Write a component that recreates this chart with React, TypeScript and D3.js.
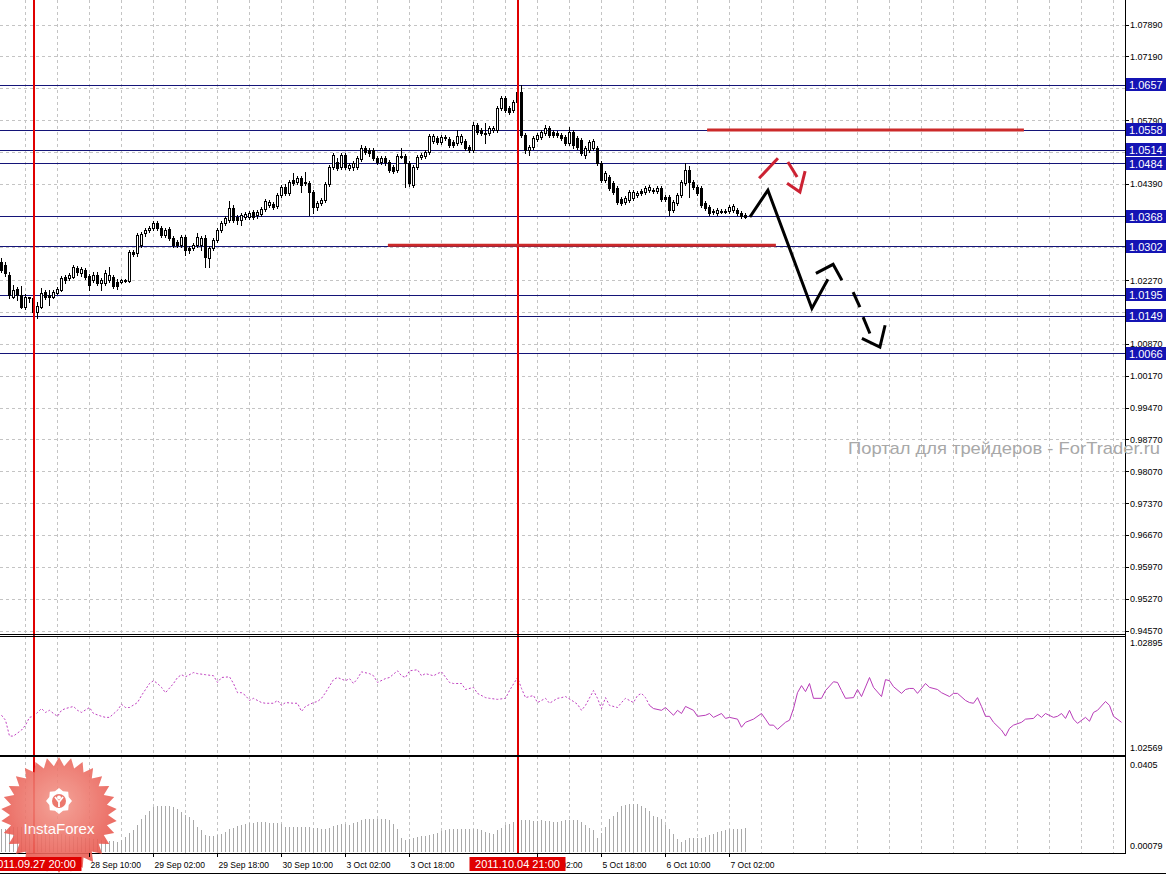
import React from "react";
import * as d3 from "d3";

const W = 1166;
const H = 875;

// EURUSD-like H1 candles [open, high, low, close]
const candles: [number, number, number, number][] = [
  [1.0268,1.0276,1.0246,1.0250],[1.0261,1.0268,1.0237,1.0243],[1.0239,1.0246,1.0188,1.0195],[1.0191,1.0217,1.0188,1.0206],
  [1.0208,1.0213,1.0184,1.0195],[1.0195,1.0215,1.0166,1.0169],[1.0169,1.0197,1.0164,1.0191],[1.0188,1.0191,1.0180,1.0191],
  [1.0188,1.0193,1.0153,1.0158],[1.0158,1.0180,1.0144,1.0171],[1.0169,1.0210,1.0166,1.0199],[1.0202,1.0206,1.0186,1.0191],
  [1.0195,1.0206,1.0173,1.0191],[1.0191,1.0206,1.0188,1.0202],[1.0199,1.0213,1.0197,1.0208],[1.0206,1.0237,1.0204,1.0232],
  [1.0235,1.0239,1.0221,1.0228],[1.0232,1.0243,1.0228,1.0239],[1.0235,1.0261,1.0232,1.0257],[1.0254,1.0259,1.0239,1.0246],
  [1.0243,1.0257,1.0237,1.0252],[1.0250,1.0254,1.0230,1.0235],[1.0237,1.0241,1.0206,1.0217],[1.0228,1.0246,1.0224,1.0239],
  [1.0239,1.0246,1.0217,1.0221],[1.0221,1.0232,1.0206,1.0228],[1.0221,1.0250,1.0217,1.0243],[1.0228,1.0257,1.0224,1.0239],
  [1.0235,1.0239,1.0210,1.0215],[1.0224,1.0230,1.0208,1.0215],[1.0224,1.0230,1.0221,1.0228],[1.0228,1.0230,1.0224,1.0226],
  [1.0226,1.0294,1.0224,1.0290],[1.0290,1.0294,1.0281,1.0285],[1.0287,1.0331,1.0281,1.0327],[1.0305,1.0334,1.0301,1.0329],
  [1.0331,1.0342,1.0325,1.0338],[1.0338,1.0347,1.0334,1.0342],[1.0342,1.0358,1.0338,1.0353],[1.0353,1.0358,1.0338,1.0342],
  [1.0342,1.0347,1.0323,1.0327],[1.0327,1.0342,1.0323,1.0338],[1.0340,1.0345,1.0316,1.0320],[1.0320,1.0325,1.0301,1.0305],
  [1.0312,1.0316,1.0301,1.0305],[1.0305,1.0327,1.0301,1.0323],[1.0323,1.0327,1.0283,1.0294],[1.0298,1.0303,1.0287,1.0294],
  [1.0298,1.0309,1.0294,1.0305],[1.0305,1.0331,1.0301,1.0323],[1.0305,1.0325,1.0294,1.0320],[1.0320,1.0327,1.0257,1.0279],
  [1.0276,1.0303,1.0257,1.0298],[1.0298,1.0320,1.0294,1.0316],[1.0316,1.0342,1.0312,1.0338],[1.0338,1.0358,1.0334,1.0353],
  [1.0353,1.0369,1.0349,1.0364],[1.0360,1.0402,1.0356,1.0386],[1.0386,1.0393,1.0356,1.0360],[1.0367,1.0371,1.0351,1.0360],
  [1.0360,1.0375,1.0349,1.0371],[1.0367,1.0378,1.0362,1.0373],[1.0367,1.0380,1.0362,1.0375],[1.0378,1.0382,1.0362,1.0367],
  [1.0371,1.0382,1.0364,1.0378],[1.0373,1.0389,1.0369,1.0384],[1.0384,1.0406,1.0380,1.0402],[1.0393,1.0404,1.0389,1.0400],
  [1.0395,1.0400,1.0384,1.0389],[1.0391,1.0419,1.0386,1.0415],[1.0415,1.0437,1.0411,1.0433],[1.0433,1.0439,1.0415,1.0419],
  [1.0419,1.0448,1.0415,1.0444],[1.0448,1.0463,1.0437,1.0441],[1.0444,1.0457,1.0439,1.0452],[1.0452,1.0457,1.0422,1.0437],
  [1.0441,1.0466,1.0437,1.0444],[1.0441,1.0446,1.0371,1.0422],[1.0422,1.0426,1.0375,1.0389],[1.0389,1.0402,1.0382,1.0397],
  [1.0397,1.0408,1.0393,1.0404],[1.0404,1.0444,1.0400,1.0439],[1.0439,1.0481,1.0435,1.0477],[1.0477,1.0507,1.0472,1.0503],
  [1.0488,1.0496,1.0470,1.0474],[1.0477,1.0507,1.0472,1.0503],[1.0503,1.0507,1.0472,1.0477],[1.0474,1.0485,1.0470,1.0481],
  [1.0477,1.0490,1.0470,1.0485],[1.0477,1.0501,1.0472,1.0496],[1.0494,1.0525,1.0490,1.0518],[1.0518,1.0523,1.0505,1.0510],
  [1.0514,1.0518,1.0501,1.0507],[1.0514,1.0518,1.0492,1.0496],[1.0496,1.0501,1.0483,1.0488],[1.0488,1.0501,1.0483,1.0496],
  [1.0496,1.0501,1.0481,1.0488],[1.0488,1.0492,1.0466,1.0470],[1.0477,1.0481,1.0463,1.0468],[1.0470,1.0505,1.0466,1.0501],
  [1.0499,1.0518,1.0496,1.0501],[1.0501,1.0505,1.0433,1.0485],[1.0485,1.0490,1.0435,1.0441],[1.0437,1.0481,1.0433,1.0477],
  [1.0477,1.0503,1.0472,1.0499],[1.0499,1.0507,1.0494,1.0503],[1.0501,1.0514,1.0496,1.0510],[1.0510,1.0549,1.0505,1.0545],
  [1.0534,1.0549,1.0529,1.0545],[1.0540,1.0545,1.0527,1.0532],[1.0532,1.0547,1.0527,1.0543],[1.0540,1.0547,1.0536,1.0543],
  [1.0538,1.0543,1.0521,1.0525],[1.0532,1.0536,1.0521,1.0525],[1.0529,1.0558,1.0525,1.0545],[1.0532,1.0549,1.0527,1.0545],
  [1.0534,1.0538,1.0514,1.0518],[1.0521,1.0525,1.0510,1.0514],[1.0514,1.0576,1.0510,1.0569],[1.0569,1.0573,1.0549,1.0554],
  [1.0558,1.0562,1.0547,1.0551],[1.0549,1.0573,1.0529,1.0551],[1.0551,1.0567,1.0547,1.0562],[1.0558,1.0567,1.0554,1.0562],
  [1.0558,1.0611,1.0554,1.0606],[1.0606,1.0633,1.0602,1.0628],[1.0628,1.0633,1.0598,1.0602],[1.0606,1.0611,1.0593,1.0598],
  [1.0602,1.0624,1.0598,1.0620],[1.0620,1.0646,1.0615,1.0642],[1.0642,1.0657,1.0543,1.0547],[1.0547,1.0551,1.0507,1.0514],
  [1.0514,1.0525,1.0503,1.0521],[1.0521,1.0545,1.0516,1.0540],[1.0538,1.0551,1.0534,1.0547],[1.0543,1.0558,1.0538,1.0554],
  [1.0551,1.0569,1.0547,1.0562],[1.0562,1.0567,1.0543,1.0547],[1.0554,1.0558,1.0543,1.0547],[1.0551,1.0556,1.0543,1.0547],
  [1.0547,1.0551,1.0536,1.0540],[1.0543,1.0547,1.0525,1.0529],[1.0529,1.0565,1.0525,1.0554],[1.0554,1.0558,1.0518,1.0525],
  [1.0540,1.0545,1.0516,1.0521],[1.0536,1.0540,1.0503,1.0507],[1.0503,1.0523,1.0496,1.0518],[1.0514,1.0536,1.0510,1.0532],
  [1.0518,1.0538,1.0514,1.0534],[1.0518,1.0523,1.0481,1.0485],[1.0485,1.0490,1.0444,1.0448],[1.0448,1.0468,1.0444,1.0463],
  [1.0455,1.0459,1.0426,1.0430],[1.0441,1.0446,1.0417,1.0422],[1.0430,1.0435,1.0395,1.0400],[1.0406,1.0411,1.0393,1.0397],
  [1.0400,1.0413,1.0395,1.0408],[1.0404,1.0426,1.0400,1.0422],[1.0408,1.0426,1.0404,1.0422],[1.0415,1.0424,1.0411,1.0419],
  [1.0424,1.0428,1.0415,1.0419],[1.0422,1.0435,1.0417,1.0430],[1.0426,1.0437,1.0422,1.0433],[1.0424,1.0430,1.0419,1.0426],
  [1.0424,1.0435,1.0419,1.0430],[1.0430,1.0435,1.0402,1.0406],[1.0411,1.0415,1.0402,1.0406],[1.0411,1.0415,1.0371,1.0382],
  [1.0382,1.0404,1.0378,1.0400],[1.0397,1.0419,1.0393,1.0415],[1.0415,1.0448,1.0411,1.0444],[1.0441,1.0485,1.0437,1.0470],
  [1.0470,1.0479,1.0411,1.0444],[1.0444,1.0448,1.0428,1.0433],[1.0433,1.0437,1.0415,1.0419],[1.0430,1.0435,1.0389,1.0393],
  [1.0397,1.0402,1.0382,1.0386],[1.0389,1.0393,1.0371,1.0375],[1.0378,1.0384,1.0373,1.0380],[1.0375,1.0386,1.0371,1.0382],
  [1.0378,1.0384,1.0375,1.0380],[1.0380,1.0384,1.0375,1.0378],[1.0380,1.0393,1.0375,1.0389],[1.0382,1.0395,1.0378,1.0391],
  [1.0382,1.0386,1.0371,1.0375],[1.0375,1.0380,1.0364,1.0369],[1.0371,1.0375,1.0364,1.0367],
];

// price grid levels (main window) and the labels that are covered by level boxes
const priceTicks = ["1.07890","1.07190","1.06490","1.05790","1.05090","1.04390","1.03690","1.02990","1.02270","1.01570",
  "1.00870","1.00170","0.99470","0.98770","0.98070","0.97370","0.96670","0.95970","0.95270","0.94570"];
const coveredTicks = ["1.06490", "1.05090", "1.03690", "1.02990"];

// horizontal support / resistance levels
const levels = [1.0657, 1.0558, 1.0514, 1.0484, 1.0368, 1.0302, 1.0195, 1.0149, 1.0066];

// time axis labels: [bar index, text]
const timeLabels: [number, string][] = [
  [22,"28 Sep 10:00"],[38,"29 Sep 02:00"],[54,"29 Sep 18:00"],[70,"30 Sep 10:00"],[86,"3 Oct 02:00"],
  [102,"3 Oct 18:00"],[134,"5 Oct 02:00"],[150,"5 Oct 18:00"],[166,"6 Oct 10:00"],[182,"7 Oct 02:00"],
];

// vertical marker lines
const markerBars = [8, 129];
const markerTexts = ["2011.09.27 20:00", "2011.10.04 21:00"];

// indicator line in sub-window 1: [bar, value]
const indLine: [number, number][] = [
  [0,1.02676],[1,1.02662],[2,1.02617],[3,1.02617],[5,1.02634],[6,1.02648],[7,1.02670],[8,1.02673],[10,1.02695],[11,1.02684],
  [12,1.02690],[13,1.02681],[14,1.02673],[15,1.02690],[16,1.02695],[18,1.02701],[19,1.02690],[20,1.02684],[22,1.02698],[23,1.02681],
  [25,1.02673],[26,1.02670],[27,1.02670],[29,1.02690],[30,1.02707],[31,1.02698],[32,1.02698],[34,1.02712],[35,1.02732],[36,1.02749],
  [37,1.02766],[38,1.02774],[39,1.02766],[40,1.02755],[41,1.02740],[43,1.02766],[44,1.02783],[45,1.02791],[46,1.02785],[48,1.02797],
  [49,1.02794],[51,1.02791],[53,1.02788],[54,1.02769],[55,1.02783],[57,1.02785],[58,1.02766],[59,1.02740],[60,1.02740],[61,1.02732],
  [62,1.02718],[63,1.02724],[65,1.02712],[66,1.02710],[68,1.02710],[69,1.02718],[70,1.02704],[71,1.02712],[73,1.02710],[74,1.02710],
  [75,1.02687],[76,1.02701],[78,1.02712],[79,1.02715],[80,1.02724],[81,1.02740],[83,1.02777],[84,1.02783],[86,1.02774],[87,1.02780],
  [88,1.02766],[89,1.02780],[90,1.02799],[92,1.02794],[93,1.02788],[94,1.02769],[96,1.02780],[97,1.02783],[99,1.02802],[100,1.02788],
  [101,1.02783],[102,1.02802],[104,1.02805],[105,1.02788],[106,1.02794],[108,1.02788],[109,1.02794],[110,1.02799],[112,1.02769],[113,1.02766],
  [115,1.02766],[116,1.02749],[118,1.02755],[119,1.02738],[121,1.02726],[122,1.02724],[124,1.02721],[126,1.02724],[127,1.02746],[129,1.02783],
  [130,1.02752],[131,1.02726],[133,1.02732],[134,1.02712],[136,1.02724],[137,1.02710],[139,1.02724],[140,1.02726],[141,1.02729],[143,1.02715],
  [144,1.02707],[145,1.02690],[146,1.02704],[148,1.02746],[149,1.02724],[150,1.02695],[151,1.02726],[152,1.02704],[154,1.02698],[155,1.02712],
  [156,1.02724],[158,1.02712],[159,1.02732],[160,1.02738],[161,1.02726],[162,1.02704],[163,1.02695],[165,1.02690],[166,1.02698],[168,1.02676],
  [169,1.02690],[170,1.02681],[171,1.02701],[173,1.02690],[174,1.02673],[176,1.02676],[177,1.02681],[178,1.02670],[180,1.02681],[181,1.02667],
  [182,1.02670],[184,1.02665],[185,1.02642],[186,1.02656],[188,1.02665],[190,1.02681],[191,1.02665],[192,1.02648],[193,1.02648],[194,1.02636],
  [196,1.02656],[197,1.02662],[198,1.02695],[199,1.02740],[200,1.02760],[201,1.02743],[202,1.02766],[203,1.02724],[205,1.02724],[206,1.02746],
  [208,1.02771],[209,1.02769],[210,1.02746],[211,1.02724],[213,1.02726],[214,1.02749],[215,1.02729],[217,1.02783],[218,1.02755],[220,1.02729],
  [221,1.02777],[222,1.02774],[223,1.02757],[225,1.02738],[226,1.02749],[227,1.02752],[228,1.02752],[229,1.02738],[231,1.02766],[232,1.02755],
  [234,1.02749],[235,1.02740],[237,1.02729],[238,1.02738],[239,1.02738],[241,1.02718],[242,1.02712],[243,1.02710],[244,1.02726],[245,1.02701],
  [246,1.02673],[247,1.02673],[248,1.02656],[250,1.02634],[251,1.02617],[252,1.02639],[253,1.02648],[255,1.02656],[256,1.02665],[258,1.02667],
  [259,1.02679],[260,1.02670],[261,1.02681],[263,1.02670],[264,1.02673],[265,1.02681],[266,1.02667],[267,1.02690],[268,1.02665],[269,1.02653],
  [271,1.02670],[272,1.02659],[273,1.02684],[274,1.02690],[276,1.02715],[277,1.02704],[278,1.02673],[280,1.02656],
];
const indDashedUntil = 162;
const indRange = [1.02569, 1.02895];

// histogram in sub-window 2 (one value per candle)
const histValues = [
  0.0104,0.0106,0.0110,0.0112,0.0112,0.0114,0.0112,0.0110,0.0112,0.0110,
  0.0106,0.0100,0.0096,0.0090,0.0086,0.0084,0.0080,0.0076,0.0074,0.0072,
  0.0070,0.0068,0.0066,0.0064,0.0062,0.0060,0.0058,0.0056,0.0054,0.0051,
  0.0060,0.0072,0.0088,0.0100,0.0121,0.0149,0.0166,0.0183,0.0197,0.0201,
  0.0204,0.0204,0.0202,0.0197,0.0190,0.0176,0.0166,0.0155,0.0142,0.0114,
  0.0100,0.0079,0.0077,0.0075,0.0079,0.0086,0.0093,0.0103,0.0111,0.0116,
  0.0121,0.0128,0.0129,0.0130,0.0134,0.0134,0.0134,0.0132,0.0130,0.0129,
  0.0128,0.0114,0.0114,0.0114,0.0114,0.0114,0.0114,0.0112,0.0111,0.0109,
  0.0107,0.0103,0.0110,0.0117,0.0124,0.0126,0.0128,0.0124,0.0130,0.0136,
  0.0142,0.0146,0.0148,0.0149,0.0149,0.0148,0.0146,0.0142,0.0125,0.0107,
  0.0065,0.0058,0.0063,0.0068,0.0072,0.0074,0.0075,0.0079,0.0084,0.0089,
  0.0096,0.0100,0.0103,0.0104,0.0103,0.0105,0.0106,0.0104,0.0104,0.0103,
  0.0100,0.0094,0.0089,0.0083,0.0100,0.0110,0.0121,0.0128,0.0134,0.0139,
  0.0142,0.0142,0.0142,0.0140,0.0139,0.0142,0.0140,0.0139,0.0136,0.0134,
  0.0138,0.0142,0.0144,0.0143,0.0142,0.0134,0.0121,0.0110,0.0100,0.0065,
  0.0090,0.0114,0.0149,0.0162,0.0176,0.0204,0.0208,0.0211,0.0211,0.0211,
  0.0204,0.0194,0.0183,0.0162,0.0155,0.0149,0.0121,0.0104,0.0086,0.0061,
  0.0051,0.0058,0.0065,0.0069,0.0069,0.0069,0.0072,0.0078,0.0083,0.0093,
  0.0097,0.0100,0.0103,0.0103,0.0103,0.0107,0.0111,
];
const histRange = [0.00079, 0.0405];

// thick red horizontal segments [fromBar, toBar, price]
const redSegments: [number, number, number][] = [
  [176.4, 255.6, 1.0558],
  [96.6, 193.6, 1.0305],
];

// hand-drawn forecast strokes: [bar, price]
const blackStrokes: [number, number][][] = [
  [[187.1,1.0367],[191.6,1.0426],[202.6,1.0166],[206.6,1.0230]],
  [[203.6,1.0243],[207.9,1.0263],[210.1,1.0228]],
  [[212.9,1.0202],[214.6,1.0169]],
  [[215.4,1.0147],[217.1,1.0111]],
  [[215.1,1.0100],[219.6,1.0081],[220.9,1.0129]],
];
const redStrokes: [number, number][][] = [
  [[189.4,1.0452],[194.1,1.0496]],
  [[196.6,1.0488],[198.9,1.0455]],
  [[196.4,1.0441],[199.6,1.0422],[200.9,1.0468]],
];

const FONT = "'Liberation Sans', Arial, sans-serif";
const AXIS_X = 1125;
const MAIN_BOTTOM = 634;
const IND_TOP = 637, IND_BOTTOM = 755;
const HIST_TOP = 757, HIST_BOTTOM = 853;

export default function App() {
  const x = d3.scaleLinear().domain([0, 280]).range([1.5, 1121.5]);
  const y = d3.scaleLinear().domain([0.9457, 1.0789]).range([631, 25]);
  const yInd = d3.scaleLinear().domain(indRange).range([753, 638]);
  const yHist = d3.scaleLinear().domain(histRange).range([852, 758]);

  const px = (v: number) => Math.round(v - 0.5) + 0.5;
  const gridBars = d3.range(6, 280, 8);
  const line = d3.line<[number, number]>().x(d => x(d[0])).y(d => y(d[1]));
  const indPath = d3.line<[number, number]>().x(d => x(d[0])).y(d => yInd(d[1]));
  const dashedPart = indLine.filter(d => d[0] <= indDashedUntil);
  const solidPart = indLine.filter(d => d[0] >= indDashedUntil);
  const RED = "#e00000";
  const markerX = (b: number) => Math.round(x(b));

  // starburst logo
  const N = 30, cxL = 59, cyL = 815, rO = 58, rI = 49;
  const star = d3.range(N * 2).map(k => {
    const a = (k * Math.PI) / N - Math.PI / 2;
    const r = k % 2 === 0 ? rO : rI;
    return [cxL + r * Math.cos(a), cyL + r * Math.sin(a)] as [number, number];
  });
  const gear = d3.range(16).map(k => {
    const a = (k * Math.PI) / 8;
    const r = k % 2 === 0 ? 13 : 10.5;
    return [cxL + r * Math.cos(a), 801 + r * Math.sin(a)] as [number, number];
  });

  return (
    <svg width={W} height={H} style={{ display: "block", position: "absolute", left: 0, top: 0, background: "#fff" }}>
      <defs>
        <clipPath id="mainClip"><rect x={0} y={0} width={AXIS_X} height={MAIN_BOTTOM} /></clipPath>
        <clipPath id="logoClip"><rect x={0} y={HIST_TOP} width={200} height={H - HIST_TOP} /></clipPath>
        <radialGradient id="logoGrad" cx="50%" cy="40%" r="60%">
          <stop offset="0%" stopColor="#f39a8e" />
          <stop offset="100%" stopColor="#e8534a" />
        </radialGradient>
      </defs>
      <rect x={0} y={0} width={W} height={H} fill="#fff" />

      {/* grid */}
      <g stroke="#c4c4c4" strokeDasharray="3,3" strokeWidth={1}>
        {priceTicks.map(t => (
          <line key={t} x1={0} x2={AXIS_X} y1={px(y(+t))} y2={px(y(+t))} />
        ))}
        {gridBars.map(b => (
          <line key={b} x1={px(x(b))} x2={px(x(b))} y1={0} y2={HIST_BOTTOM} />
        ))}
      </g>

      {/* level lines */}
      <g stroke="#141478" strokeWidth={1}>
        {levels.map(l => (
          <line key={l} x1={0} x2={AXIS_X} y1={px(y(l))} y2={px(y(l))} />
        ))}
      </g>

      {/* candles */}
      <g clipPath="url(#mainClip)">
        {candles.map((c, i) => {
          const [o, h, l, cl] = c;
          const cx = px(x(i));
          const top = Math.round(y(Math.max(o, cl)));
          const bot = Math.round(y(Math.min(o, cl)));
          const bull = cl >= o;
          return (
            <g key={i}>
              <line x1={cx} x2={cx} y1={Math.round(y(h))} y2={Math.round(y(l)) + 1} stroke="#000" />
              {bull ? (
                bot - top < 1 ? (
                  <line x1={cx - 1.5} x2={cx + 1.5} y1={top + 0.5} y2={top + 0.5} stroke="#000" />
                ) : (
                  <rect x={cx - 1} y={top + 0.5} width={2} height={bot - top} fill="#fff" stroke="#000" />
                )
              ) : (
                <rect x={cx - 1.5} y={top} width={3} height={Math.max(bot - top, 1) + 1} fill="#000" />
              )}
            </g>
          );
        })}

        {/* red marker vertical lines */}
        {markerBars.map(b => (
          <line key={b} x1={markerX(b)} x2={markerX(b)} y1={0} y2={MAIN_BOTTOM} stroke={RED} strokeWidth={2} />
        ))}

        {/* red thick segments */}
        {redSegments.map((s, i) => (
          <line key={i} x1={x(s[0])} x2={x(s[1])} y1={y(s[2])} y2={y(s[2])} stroke="#cc2a2a" strokeWidth={3} />
        ))}

        {/* forecast strokes */}
        {blackStrokes.map((s, i) => (
          <path key={"b" + i} d={line(s) || ""} fill="none" stroke="#000" strokeWidth={3} strokeLinejoin="miter" />
        ))}
        {redStrokes.map((s, i) => (
          <path key={"r" + i} d={line(s) || ""} fill="none" stroke="#cc2233" strokeWidth={3} />
        ))}
      </g>

      {/* indicator line */}
      <path d={indPath(dashedPart) || ""} fill="none" stroke="#c040c0" strokeWidth={1} strokeDasharray="2,2" />
      <path d={indPath(solidPart) || ""} fill="none" stroke="#b83cb8" strokeWidth={1} />

      {/* histogram */}
      <g stroke="#a9a9a9" strokeWidth={1}>
        {histValues.map((v, i) => (
          <line key={i} x1={px(x(i))} x2={px(x(i))} y1={HIST_BOTTOM - 1} y2={Math.round(yHist(v))} />
        ))}
      </g>

      {/* marker lines in sub windows */}
      {markerBars.map(b => (
        <line key={"m" + b} x1={markerX(b)} x2={markerX(b)} y1={MAIN_BOTTOM} y2={HIST_BOTTOM} stroke={RED} strokeWidth={2} />
      ))}

      {/* panel borders */}
      <g stroke="#000" strokeWidth={1}>
        <line x1={0} x2={AXIS_X} y1={MAIN_BOTTOM + 0.5} y2={MAIN_BOTTOM + 0.5} />
        <line x1={0} x2={AXIS_X} y1={IND_TOP - 0.5} y2={IND_TOP - 0.5} />
        <line x1={0} x2={AXIS_X} y1={IND_BOTTOM + 0.5} y2={IND_BOTTOM + 0.5} />
        <line x1={0} x2={AXIS_X} y1={HIST_TOP - 0.5} y2={HIST_TOP - 0.5} />
        <line x1={0} x2={AXIS_X} y1={HIST_BOTTOM + 0.5} y2={HIST_BOTTOM + 0.5} />
        <line x1={0} x2={W} y1={873.5} y2={873.5} />
        <line x1={AXIS_X + 0.5} x2={AXIS_X + 0.5} y1={0} y2={HIST_BOTTOM + 1} />
      </g>

      {/* watermark */}
      <text x={848} y={454} fontFamily={FONT} fontSize={17} fill="#a8a8a8" textLength={312} lengthAdjust="spacingAndGlyphs">
        Портал для трейдеров - ForTrader.ru
      </text>

      {/* price axis labels */}
      <g fontFamily={FONT} fontSize={9} fill="#000">
        {priceTicks.map(t => (
          <g key={t}>
            <line x1={AXIS_X} x2={AXIS_X + 4} y1={px(y(+t))} y2={px(y(+t))} stroke="#000" />
            {coveredTicks.includes(t) ? null : <text x={1130} y={y(+t) + 3}>{t}</text>}
          </g>
        ))}
        <text x={1130} y={IND_TOP + 9}>{indRange[1].toFixed(5)}</text>
        <text x={1130} y={IND_BOTTOM - 4}>{indRange[0].toFixed(5)}</text>
        <text x={1130} y={HIST_TOP + 11}>{histRange[1].toFixed(4)}</text>
        <text x={1130} y={HIST_BOTTOM - 4}>{histRange[0].toFixed(5)}</text>
      </g>

      {/* level boxes */}
      <g fontFamily={FONT} fontSize={11}>
        {levels.map(l => (
          <g key={l}>
            <rect x={AXIS_X + 1} y={Math.round(y(l)) - 7} width={W - AXIS_X - 1} height={13} fill="#1414b4" />
            <text x={1129} y={Math.round(y(l)) + 4} fill="#fff">{l.toFixed(4)}</text>
          </g>
        ))}
      </g>

      {/* InstaForex logo */}
      <g clipPath="url(#logoClip)" opacity={0.9}>
        <polygon points={star.map(p => p.join(",")).join(" ")} fill="url(#logoGrad)" />
        <polygon points={gear.map(p => p.join(",")).join(" ")} fill="#fff" />
        <circle cx={cxL} cy={801} r={7} fill="#ea6a5e" />
        <circle cx={cxL} cy={797.5} r={2} fill="#fff" />
        <path d={`M${cxL - 4},${797} L${cxL},${802} L${cxL + 4},${797} M${cxL},${802} L${cxL},${807}`} stroke="#fff" strokeWidth={1.8} fill="none" />
        <text x={cxL} y={834} textAnchor="middle" fontFamily={FONT} fontSize={15} fill="#fff">InstaForex</text>
      </g>

      {/* time axis */}
      <g fontFamily={FONT} fontSize={8.5} fill="#000">
        {timeLabels.map(([b, t]) => (
          <g key={b}>
            <line x1={px(x(b))} x2={px(x(b))} y1={HIST_BOTTOM} y2={HIST_BOTTOM + 4} stroke="#000" />
            <text x={x(b) + 1} y={868}>{t}</text>
          </g>
        ))}
      </g>
      {markerBars.map((b, i) => (
        <g key={"lbl" + b}>
          <rect x={x(b) - 48} y={857} width={96} height={14} fill={RED} />
          <text x={x(b)} y={868} textAnchor="middle" fontFamily={FONT} fontSize={11} fill="#fff">{markerTexts[i]}</text>
        </g>
      ))}
    </svg>
  );
}
